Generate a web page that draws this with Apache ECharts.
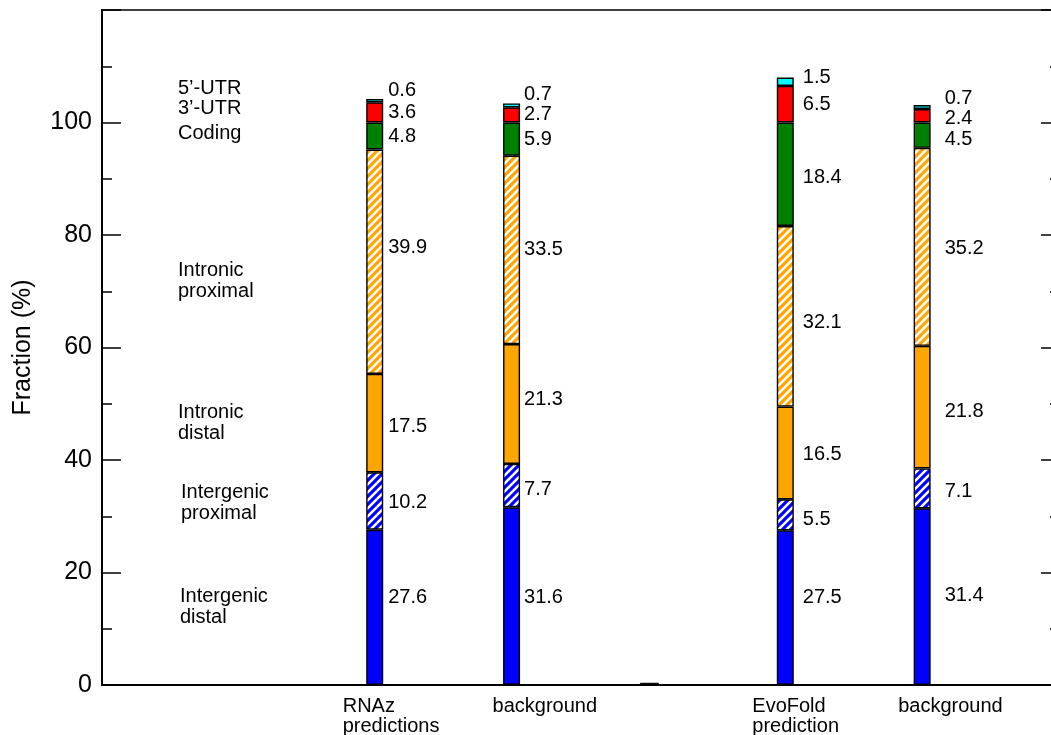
<!DOCTYPE html>
<html>
<head>
<meta charset="utf-8">
<script src="https://cdn.jsdelivr.net/npm/echarts@6/dist/echarts.min.js"></script>
<style>
  html, body { margin: 0; padding: 0; background: #fff; }
  #chart { width: 1051px; height: 735px; }
</style>
</head>
<body>
<div id="chart"></div>
<script>
// Genomic location of predicted structured RNAs vs. background (percent)
const groups = ['RNAz\npredictions', 'background', '', 'EvoFold\nprediction', 'background'];
const segmentNames = ['Intergenic\ndistal', 'Intergenic\nproximal', 'Intronic\ndistal',
                      'Intronic\nproximal', 'Coding', '3\u2019-UTR', '5\u2019-UTR'];

// one array per segment, one value per group (bottom to top of each bar)
const intergenicDistal   = [27.6, 31.6, null, 27.5, 31.4];
const intergenicProximal = [10.2,  7.7, null,  5.5,  7.1];
const intronicDistal     = [17.5, 21.3, null, 16.5, 21.8];
const intronicProximal   = [39.9, 33.5, null, 32.1, 35.2];
const coding             = [ 4.8,  5.9, null, 18.4,  4.5];
const utr3               = [ 3.6,  2.7, null,  6.5,  2.4];
const utr5               = [ 0.6,  0.7, null,  1.5,  0.7];
// short separator mark between the two comparisons
const separator          = [null, null, 0.4, null, null];

const yTicks = [0, 20, 40, 60, 80, 100];

const segmentValues = [intergenicDistal, intergenicProximal, intronicDistal,
                       intronicProximal, coding, utr3, utr5];

// ---- layout: label nudges (px) ----
const labelGap = [5, 4, 0, 9, 14];            // horizontal gap per group
const labelDy = [                              // vertical nudge per segment, per group
  [-10, 1, 0, -10, -1],
  [  1, 4, 0,   5,  3],
  [  3, -5, 0,  2,  4],
  [-14, 0, 0,   6,  2],
  [  0, 0, 0,   3,  4],
  [  0, 0, 0,   0,  3],
  [-10, -11, 0, -4, -9]
];
const groupLabelShift = [-33, -20, 0, -34, -25];
const nameLabelPos = [[180, 607], [181, 503], [178, 423], [178, 281], [178, 133], [178, 108], [178, 88]];

const FONT = '"Liberation Sans", Arial, Helvetica, sans-serif';

function stripes(color) {
  const s = 8;
  const c = document.createElement('canvas');
  c.width = c.height = s;
  const g = c.getContext('2d');
  g.fillStyle = '#ffffff';
  g.fillRect(0, 0, s, s);
  g.strokeStyle = color;
  g.lineWidth = s / Math.SQRT2 / 2 + 0.3;
  for (const k of [0, s, 2 * s]) {
    g.beginPath();
    g.moveTo(-s, k + s);
    g.lineTo(k + s, -s);
    g.stroke();
  }
  return { image: c, repeat: 'repeat' };
}

const fills = ['#0000ff', stripes('#0000ff'), '#ffa500', stripes('#ffa500'),
               '#008000', '#ff0000', '#00ffff'];

const PAD_L = 2, PAD_R = 1;
const axisCats = [];
for (let i = 0; i < PAD_L + groups.length + PAD_R; i++) axisCats.push(String(i));
const pad = arr => [...Array(PAD_L).fill(null), ...arr, ...Array(PAD_R).fill(null)];

const series = segmentValues.map((vals, si) => ({
  name: segmentNames[si].replace('\n', ' '),
  type: 'bar',
  stack: 'total',
  barWidth: 17,
  barGap: '-100%',
  itemStyle: { color: fills[si], borderColor: '#000', borderWidth: 1.4 },
  label: {
    show: true,
    position: 'right',
    distance: 0,
    color: '#000',
    fontFamily: FONT,
    fontSize: 20,
    formatter: p => (p.value == null ? '' : Number(p.value).toFixed(1))
  },
  data: pad(vals.map((v, gi) => v == null ? null : ({
    value: v,
    label: { offset: [labelGap[gi], labelDy[si][gi]] }
  })))
}));

series.push({
  name: 'separator',
  type: 'bar',
  stack: 'sep',
  barWidth: 19,
  barGap: '-100%',
  itemStyle: { color: '#000', borderColor: '#000', borderWidth: 1 },
  data: pad(separator)
});

const chart = echarts.init(document.getElementById('chart'), null, { renderer: 'canvas' });

const yCommon = {
  type: 'value',
  min: 0,
  max: 120,
  interval: 20,
  splitLine: { show: false },
  axisLine: { show: true, lineStyle: { color: '#000', width: 2 } },
  axisTick: { show: true, inside: true, length: 19, lineStyle: { color: '#000', width: 1.5 } },
  minorTick: { show: true, splitNumber: 2, length: 10, lineStyle: { color: '#000', width: 1.5 } },
  minorSplitLine: { show: false }
};

chart.setOption({
  animation: false,
  backgroundColor: '#fff',
  grid: { left: 102, top: 10, width: 958, height: 675, show: true,
          outerBoundsMode: 'none', containLabel: false,
          borderColor: '#000', borderWidth: 1.5, backgroundColor: 'transparent' },
  xAxis: {
    type: 'category',
    data: axisCats,
    boundaryGap: false,
    axisLine: { show: true, lineStyle: { color: '#000', width: 2 } },
    axisTick: { show: false },
    axisLabel: { show: false },
    splitLine: { show: false }
  },
  yAxis: [
    Object.assign({}, yCommon, {
      position: 'left',
      name: 'Fraction (%)',
      nameLocation: 'middle',
      nameGap: 66,
      nameRotate: 90,
      nameTextStyle: { color: '#000', fontFamily: FONT, fontSize: 25 },
      axisLabel: {
        show: true, color: '#000', fontFamily: FONT, fontSize: 25, margin: 10,
        formatter: v => (yTicks.indexOf(v) >= 0 ? String(v) : '')
      }
    }),
    Object.assign({}, yCommon, { position: 'right', axisLabel: { show: false } })
  ],
  series: series
});

// group names below the axis and segment names at the left, placed from the axes
const graphics = [];
groups.forEach((g, gi) => {
  if (!g) return;
  const x = chart.convertToPixel({ xAxisIndex: 0 }, PAD_L + gi);
  graphics.push({
    type: 'text',
    x: x + groupLabelShift[gi],
    y: 696,
    style: { text: g, fill: '#000', font: '20px ' + FONT, lineHeight: 20,
             textAlign: 'left', textVerticalAlign: 'top' }
  });
});
segmentNames.forEach((n, si) => {
  graphics.push({
    type: 'text',
    x: nameLabelPos[si][0],
    y: nameLabelPos[si][1],
    style: { text: n, fill: '#000', font: '20px ' + FONT, lineHeight: 21,
             textAlign: 'left', textVerticalAlign: 'middle' }
  });
});
chart.setOption({ graphic: graphics });
</script>
</body>
</html>
